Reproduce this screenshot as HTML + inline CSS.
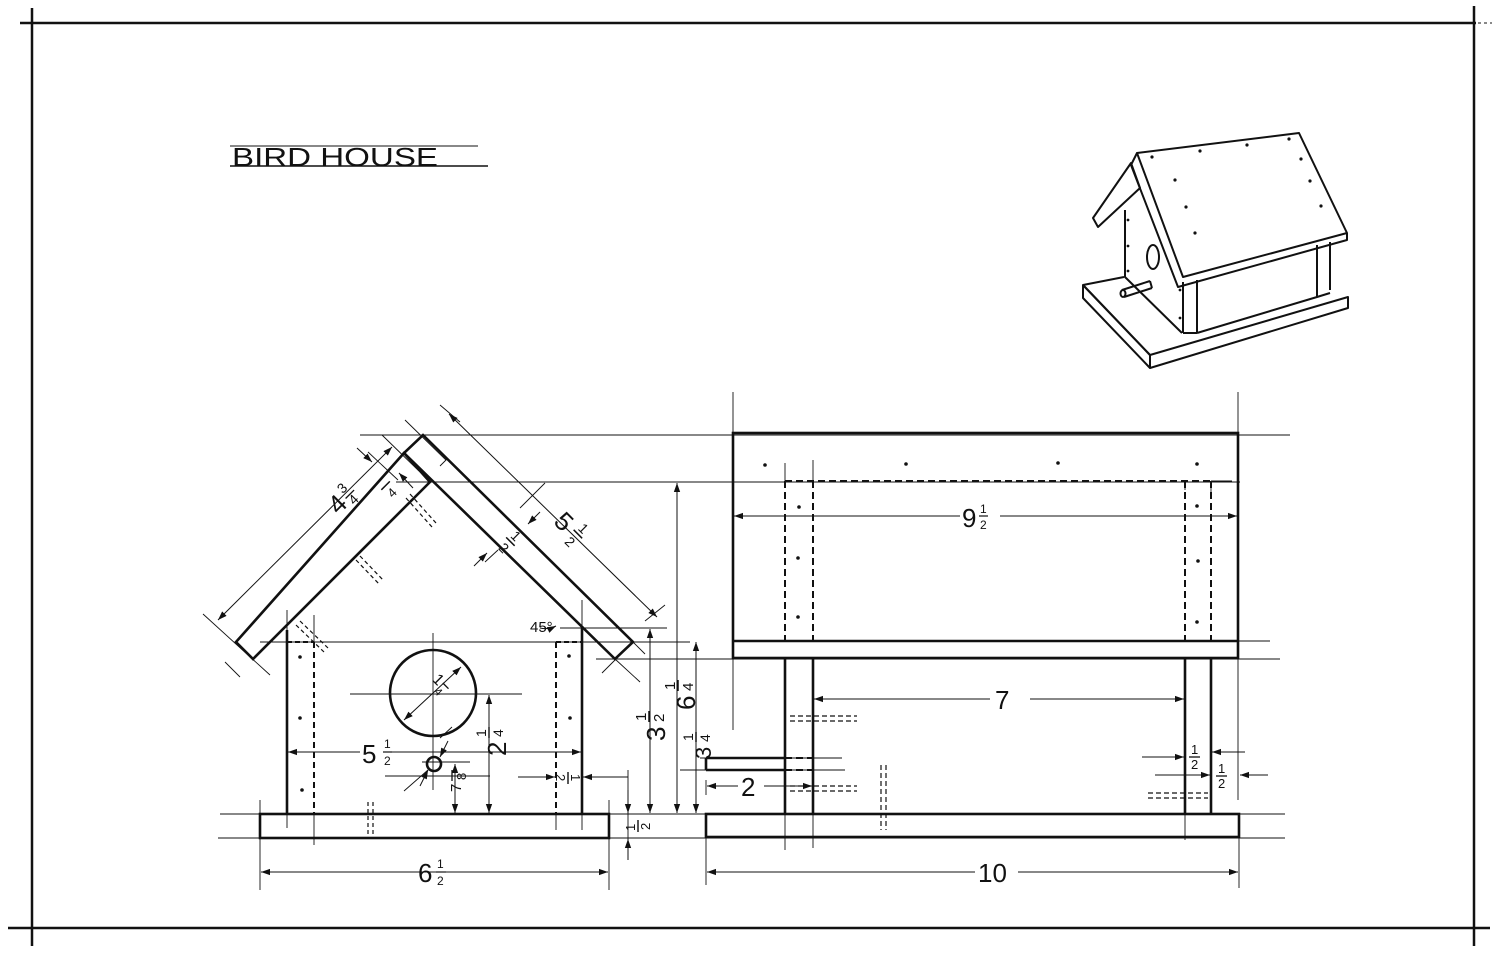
<!DOCTYPE html>
<html><head><meta charset="utf-8"><style>
html,body{margin:0;padding:0;background:#fff;}
svg{display:block;}
text{font-family:"Liberation Sans",sans-serif;fill:#111;}
</style></head><body>
<svg width="1500" height="954" viewBox="0 0 1500 954" xmlns="http://www.w3.org/2000/svg">
<defs>
<marker id="a" viewBox="0 0 10 10" refX="10" refY="5" markerWidth="9" markerHeight="9" orient="auto-start-reverse" markerUnits="userSpaceOnUse"><path d="M0,1.5 L10,5 L0,8.5 Z" fill="#111"/></marker>
</defs>
<g stroke="#111" fill="none">
<line x1="20" y1="23" x2="1476" y2="23" stroke-width="2.5"/>
<line x1="1478" y1="23" x2="1492" y2="23" stroke-width="1" stroke-dasharray="3,3"/>
<line x1="32" y1="8" x2="32" y2="946" stroke-width="2.5"/>
<line x1="1474" y1="6" x2="1474" y2="946" stroke-width="2.5"/>
<line x1="8" y1="928" x2="1490" y2="928" stroke-width="2.5"/>

<line x1="230" y1="146" x2="478" y2="146" stroke-width="1"/>
<line x1="230" y1="166" x2="488" y2="166" stroke-width="1.5"/>

<g stroke-width="2.6" stroke-linejoin="miter">
<polygon points="423,435 633,642 615,659 404,453"/>
<polygon points="404,453 236,642 253,659 430,482"/>
<line x1="287" y1="630" x2="287" y2="814"/>
<line x1="582" y1="627" x2="582" y2="814"/>
<rect x="260" y="814" width="349" height="24"/>
<circle cx="433" cy="693" r="43"/>
<circle cx="434" cy="764" r="7"/>
</g>
<g stroke-width="2" stroke-dasharray="6,4">
<line x1="314" y1="642" x2="314" y2="814"/>
<line x1="556" y1="642" x2="556" y2="814"/>
</g>
<line x1="287" y1="642" x2="314" y2="642" stroke-width="2" stroke-dasharray="5,3"/>
<line x1="556" y1="642" x2="582" y2="642" stroke-width="2" stroke-dasharray="5,3"/>
<g stroke-width="1.2" stroke-dasharray="4,3">
<path d="M368,802 L368,838 M373,802 L373,838"/>
<path d="M406,498 L432,527 M410,494 L436,523"/>
<path d="M356,560 L380,585 M360,556 L384,581"/>
<path d="M296,625 L324,652 M300,621 L328,648"/>
</g>
<g fill="#111" stroke="none">
<circle cx="300" cy="657" r="1.8"/><circle cx="300" cy="718" r="1.8"/><circle cx="302" cy="790" r="1.8"/>
<circle cx="569" cy="656" r="1.8"/><circle cx="570" cy="718" r="1.8"/>
</g>
<g stroke-width="0.9">
<line x1="260" y1="642" x2="690" y2="642"/>
<line x1="560" y1="628" x2="667" y2="628"/>
<line x1="396" y1="482" x2="1240" y2="482"/>
<line x1="360" y1="435" x2="1290" y2="435"/>
<line x1="596" y1="659" x2="1280" y2="659"/>
<line x1="350" y1="694" x2="522" y2="694"/>
<line x1="433" y1="633" x2="433" y2="790"/>
<line x1="385" y1="776" x2="490" y2="776"/>
<line x1="422" y1="762" x2="470" y2="762"/>
<line x1="220" y1="814" x2="1285" y2="814"/>
<line x1="218" y1="838" x2="1285" y2="838"/>
<line x1="260" y1="800" x2="260" y2="890"/>
<line x1="609" y1="800" x2="609" y2="890"/>
<line x1="287" y1="814" x2="287" y2="828"/>
<line x1="314" y1="814" x2="314" y2="845"/>
<line x1="556" y1="814" x2="556" y2="830"/>
<line x1="582" y1="814" x2="582" y2="830"/>
<line x1="287" y1="610" x2="287" y2="630"/>
<line x1="314" y1="615" x2="314" y2="642"/>
<line x1="582" y1="600" x2="582" y2="627"/>
<line x1="203" y1="614" x2="270" y2="675"/>
<line x1="225" y1="662" x2="240" y2="677"/>
<line x1="405" y1="420" x2="446" y2="460"/>
<line x1="382" y1="435" x2="419" y2="471"/>
<line x1="368" y1="452" x2="398" y2="480"/>
<line x1="440" y1="405" x2="460" y2="422"/>
<line x1="645" y1="621" x2="665" y2="605"/>
<line x1="602" y1="673" x2="633" y2="642"/>
<line x1="633" y1="642" x2="645" y2="654"/>
<line x1="615" y1="659" x2="640" y2="682"/>
<line x1="520" y1="508" x2="545" y2="483"/>
<line x1="485" y1="562" x2="498" y2="550"/>
<line x1="440" y1="466" x2="447" y2="459"/>
<line x1="628" y1="770" x2="628" y2="860"/>
<line x1="598" y1="777" x2="628" y2="777"/>
<line x1="518" y1="777" x2="555" y2="777"/>
<line x1="440" y1="738" x2="452" y2="727"/>
<line x1="404" y1="791" x2="428" y2="770"/>
</g>
<g stroke-width="1" marker-start="url(#a)" marker-end="url(#a)">
<line x1="218" y1="620" x2="392" y2="447"/>
<line x1="449" y1="414" x2="657" y2="617"/>
<line x1="261" y1="872" x2="608" y2="872"/>
<line x1="489" y1="695" x2="489" y2="813"/>
<line x1="650" y1="629" x2="650" y2="813"/>
<line x1="677" y1="483" x2="677" y2="813"/>
<line x1="455" y1="764" x2="455" y2="813"/>
<line x1="696" y1="642" x2="696" y2="813"/>
<line x1="404" y1="720" x2="461" y2="667"/>
</g>
<g stroke-width="1">
<line x1="288" y1="752" x2="360" y2="752" marker-start="url(#a)"/>
<line x1="392" y1="752" x2="581" y2="752" marker-end="url(#a)"/>
<line x1="628" y1="790" x2="628" y2="813" marker-end="url(#a)"/>
<line x1="628" y1="860" x2="628" y2="839" marker-end="url(#a)"/>
<line x1="538" y1="777" x2="555" y2="777" marker-end="url(#a)"/>
<line x1="600" y1="777" x2="583" y2="777" marker-end="url(#a)"/>
<line x1="357" y1="448" x2="372" y2="462" marker-end="url(#a)"/>
<line x1="413" y1="488" x2="399" y2="473" marker-end="url(#a)"/>
<line x1="474" y1="566" x2="487" y2="553" marker-end="url(#a)"/>
<line x1="540" y1="512" x2="528" y2="524" marker-end="url(#a)"/>
<line x1="420" y1="786" x2="428" y2="770" marker-end="url(#a)"/>
<line x1="448" y1="741" x2="440" y2="757" marker-end="url(#a)"/>
<path d="M540,628 Q548,630 556,626" marker-end="url(#a)"/>
</g>

<g stroke-width="2.6">
<rect x="733" y="433" width="505" height="225"/>
<line x1="733" y1="641" x2="1238" y2="641"/>
<line x1="785" y1="658" x2="785" y2="814"/>
<line x1="813" y1="658" x2="813" y2="814"/>
<line x1="1185" y1="658" x2="1185" y2="814"/>
<line x1="1211" y1="658" x2="1211" y2="814"/>
<rect x="706" y="814" width="533" height="23"/>
<line x1="706" y1="758" x2="785" y2="758"/>
<line x1="706" y1="770" x2="785" y2="770"/>
<line x1="706" y1="758" x2="706" y2="770"/>
</g>
<g stroke-width="2" stroke-dasharray="7,4">
<line x1="785" y1="481" x2="1211" y2="481"/>
<line x1="785" y1="481" x2="785" y2="641"/>
<line x1="813" y1="481" x2="813" y2="641"/>
<line x1="1185" y1="481" x2="1185" y2="641"/>
<line x1="1211" y1="481" x2="1211" y2="641"/>
<line x1="785" y1="758" x2="813" y2="758"/>
<line x1="785" y1="770" x2="813" y2="770"/>
</g>
<g stroke-width="1.2" stroke-dasharray="5,3">
<path d="M790,716 L857,716 M790,721 L857,721"/>
<path d="M790,786 L857,786 M790,791 L857,791"/>
<path d="M1148,793 L1208,793 M1148,798 L1208,798"/>
<path d="M881,765 L881,830 M886,765 L886,830"/>
</g>
<g fill="#111" stroke="none">
<circle cx="765" cy="465" r="1.8"/><circle cx="906" cy="464" r="1.8"/><circle cx="1058" cy="463" r="1.8"/><circle cx="1197" cy="464" r="1.8"/>
<circle cx="799" cy="507" r="1.8"/><circle cx="798" cy="558" r="1.8"/><circle cx="798" cy="617" r="1.8"/>
<circle cx="1197" cy="506" r="1.8"/><circle cx="1198" cy="561" r="1.8"/><circle cx="1197" cy="622" r="1.8"/>
</g>
<g stroke-width="0.9">
<line x1="733" y1="392" x2="733" y2="730"/>
<line x1="1238" y1="392" x2="1238" y2="800"/>
<line x1="785" y1="463" x2="785" y2="481"/>
<line x1="813" y1="460" x2="813" y2="481"/>
<line x1="1185" y1="480" x2="1185" y2="490"/>
<line x1="1211" y1="484" x2="1211" y2="495"/>
<line x1="785" y1="814" x2="785" y2="850"/>
<line x1="813" y1="814" x2="813" y2="848"/>
<line x1="1185" y1="814" x2="1185" y2="840"/>
<line x1="706" y1="837" x2="706" y2="885"/>
<line x1="1239" y1="837" x2="1239" y2="888"/>
<line x1="700" y1="758" x2="842" y2="758"/>
<line x1="680" y1="770" x2="845" y2="770"/>
<line x1="706" y1="780" x2="706" y2="795"/>
<line x1="1211" y1="481" x2="1232" y2="481"/>
<line x1="1238" y1="641" x2="1270" y2="641"/>
</g>
<g stroke-width="1">
<line x1="734" y1="516" x2="960" y2="516" marker-start="url(#a)"/>
<line x1="1000" y1="516" x2="1237" y2="516" marker-end="url(#a)"/>
<line x1="814" y1="699" x2="990" y2="699" marker-start="url(#a)"/>
<line x1="1030" y1="699" x2="1184" y2="699" marker-end="url(#a)"/>
<line x1="707" y1="786" x2="738" y2="786" marker-start="url(#a)"/>
<line x1="764" y1="786" x2="812" y2="786" marker-end="url(#a)"/>
<line x1="707" y1="872" x2="975" y2="872" marker-start="url(#a)"/>
<line x1="1018" y1="872" x2="1238" y2="872" marker-end="url(#a)"/>
<line x1="1142" y1="757" x2="1184" y2="757" marker-end="url(#a)"/>
<line x1="1245" y1="752" x2="1212" y2="752" marker-end="url(#a)"/>
<line x1="1155" y1="775" x2="1210" y2="775" marker-end="url(#a)"/>
<line x1="1268" y1="775" x2="1240" y2="775" marker-end="url(#a)"/>
</g>

<g stroke-width="2" stroke-linejoin="round">
<polygon points="1083,285 1083,298 1150,368 1348,308 1348,297 1150,355"/>
<line x1="1150" y1="355" x2="1150" y2="368"/>
<line x1="1083" y1="285" x2="1150" y2="355"/>
<path d="M1083,285 L1124,277"/>
<path d="M1125,210 L1125,277 L1182,333"/>
<path d="M1183,333 L1197,333 M1197,280 L1197,333 M1197,333 L1317,297 L1317,245 M1330,290 L1330,242 M1317,297 L1330,293"/>
<path d="M1183,282 L1183,333"/>
<polygon points="1137,153 1299,133 1347,233 1183,277"/>
<path d="M1137,153 L1131,165 L1178,287 L1347,240 L1347,233"/>
<polygon points="1093,218 1131,163 1140,188 1098,227" />
<ellipse cx="1153" cy="257" rx="6" ry="12"/>
<path d="M1122,290 L1150,281 M1124,297 L1152,288 M1150,281 L1152,288"/>
<ellipse cx="1123" cy="293.5" rx="2.5" ry="3.5"/>
</g>
<g fill="#111" stroke="none">
<circle cx="1152" cy="157" r="1.6"/><circle cx="1200" cy="151" r="1.6"/><circle cx="1247" cy="145" r="1.6"/><circle cx="1289" cy="139" r="1.6"/>
<circle cx="1301" cy="159" r="1.6"/><circle cx="1310" cy="181" r="1.6"/><circle cx="1321" cy="206" r="1.6"/>
<circle cx="1175" cy="180" r="1.6"/><circle cx="1186" cy="207" r="1.6"/><circle cx="1195" cy="233" r="1.6"/>
<circle cx="1128" cy="220" r="1.4"/><circle cx="1128" cy="246" r="1.4"/><circle cx="1128" cy="271" r="1.4"/><circle cx="1180" cy="290" r="1.4"/><circle cx="1180" cy="318" r="1.4"/>
</g>
</g>

<text x="232" y="166" font-size="26" textLength="206" lengthAdjust="spacingAndGlyphs">BIRD HOUSE</text>

<g font-size="26">
<g transform="translate(347,507) rotate(-45)"><text x="-12" y="0">4</text><text x="6" y="-12" font-size="14">3</text><text x="6" y="4" font-size="14">4</text><line x1="5" y1="-7" x2="17" y2="-7" stroke="#111" stroke-width="1.3"/></g>
<g transform="translate(568,527) rotate(45)"><text x="-14" y="8">5</text><line x1="6" y1="-2" x2="18" y2="-2" stroke="#111" stroke-width="1.5"/><text x="8" y="14" font-size="14">2</text><text x="8" y="-5" font-size="14">1</text></g>
<g transform="translate(509,543) rotate(45)"><line x1="-6" y1="-2" x2="6" y2="-2" stroke="#111" stroke-width="1.5"/><text x="-4" y="12" font-size="14">2</text><text x="-4" y="-5" font-size="14">1</text></g>
<g transform="translate(387,487) rotate(-45)"><line x1="-6" y1="-2" x2="6" y2="-2" stroke="#111" stroke-width="1.5"/><text x="-4" y="12" font-size="13">4</text></g>
<g transform="translate(440,683) rotate(45)"><text x="-8" y="4" font-size="16">1</text><line x1="2" y1="-2" x2="10" y2="-2" stroke="#111" stroke-width="1.3"/><text x="2" y="11" font-size="11">4</text></g>
<text x="530" y="632" font-size="15">45°</text>
<text x="362" y="763">5</text><text x="384" y="748" font-size="12">1</text><line x1="383" y1="752" x2="392" y2="752" stroke="#111" stroke-width="1.2"/><text x="384" y="765" font-size="12">2</text>

<g transform="translate(497,740) rotate(-90)"><text x="-16" y="9">2</text><text x="3" y="-11" font-size="14">1</text><line x1="2" y1="-8" x2="13" y2="-8" stroke="#111" stroke-width="1.4"/><text x="3" y="6" font-size="14">4</text></g>
<g transform="translate(462,780) rotate(-90)"><text x="-12" y="-1" font-size="15">7</text><line x1="-1" y1="-10" x2="10" y2="-10" stroke="#111" stroke-width="1.3"/><text x="0" y="4" font-size="13">8</text></g>
<g transform="translate(568,778) rotate(90)"><line x1="-6" y1="0" x2="6" y2="0" stroke="#111" stroke-width="1.4"/><text x="-4" y="-3" font-size="13">1</text><text x="-4" y="12" font-size="13">2</text></g>
<g transform="translate(657,725) rotate(-90)"><text x="-16" y="8">3</text><text x="4" y="-11" font-size="15">1</text><line x1="3" y1="-8" x2="14" y2="-8" stroke="#111" stroke-width="1.5"/><text x="3" y="7" font-size="15">2</text></g>
<g transform="translate(686,694) rotate(-90)"><text x="-16" y="9">6</text><text x="4" y="-11" font-size="15">1</text><line x1="3" y1="-8" x2="14" y2="-8" stroke="#111" stroke-width="1.5"/><text x="3" y="7" font-size="15">4</text></g>
<g transform="translate(703,745) rotate(-90)"><text x="-14" y="8" font-size="22">3</text><text x="4" y="-10" font-size="14">1</text><line x1="3" y1="-7" x2="13" y2="-7" stroke="#111" stroke-width="1.5"/><text x="3" y="7" font-size="14">4</text></g>
<g transform="translate(638,826) rotate(-90)"><text x="-5" y="-3" font-size="13">1</text><line x1="-6" y1="0" x2="6" y2="0" stroke="#111" stroke-width="1.4"/><text x="-4" y="12" font-size="13">2</text></g>
<text x="418" y="882">6</text><text x="437" y="868" font-size="12">1</text><line x1="436" y1="872" x2="446" y2="872" stroke="#111" stroke-width="1.2"/><text x="437" y="885" font-size="12">2</text>

<text x="962" y="527">9</text><text x="980" y="513" font-size="12">1</text><line x1="979" y1="516" x2="988" y2="516" stroke="#111" stroke-width="1.2"/><text x="980" y="529" font-size="12">2</text>
<text x="995" y="709">7</text>
<text x="741" y="796">2</text>
<text x="978" y="882">10</text>
<text x="1191" y="754" font-size="13">1</text><line x1="1189" y1="757" x2="1200" y2="757" stroke="#111" stroke-width="1.3"/><text x="1191" y="769" font-size="13">2</text>
<text x="1218" y="773" font-size="13">1</text><line x1="1216" y1="776" x2="1227" y2="776" stroke="#111" stroke-width="1.3"/><text x="1218" y="788" font-size="13">2</text>
</g>
</svg>
</body></html>
